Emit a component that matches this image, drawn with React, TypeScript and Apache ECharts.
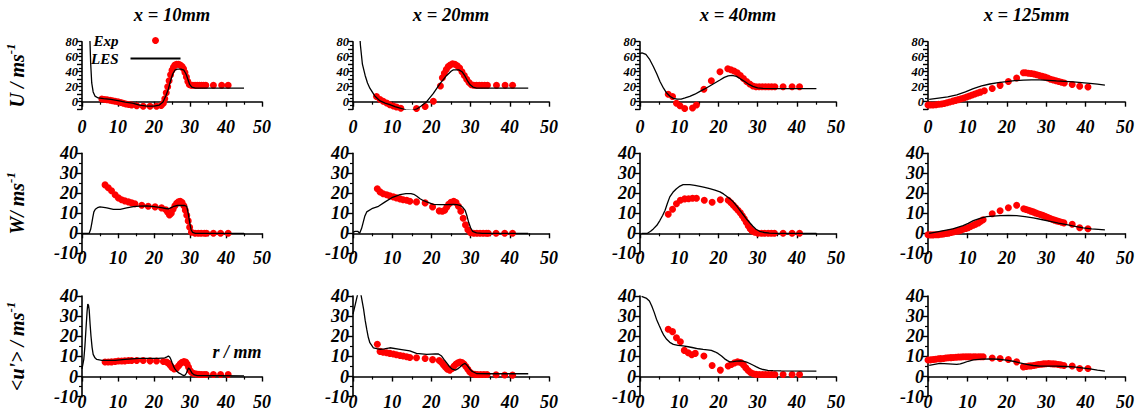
import React, { useEffect, useRef } from 'react';
import * as echarts from 'echarts';

// ---------- tick / category texts ----------
const stationTitles = ['x = 10mm', 'x = 20mm', 'x = 40mm', 'x = 125mm'];
const yNames = ['U / ms', 'W/ ms', "<u'> / ms"];
const yMaxes = [80, 40, 40];
const xTicks = [0, 10, 20, 30, 40, 50];

// ---------- row 1 : U ----------
const expU10 = [[5.5,3.5],[6.3,3],[7,2.6],[7.8,2],[8.5,1.2],[9.2,0.6],[10,0],[10.8,-1],[11.5,-2],[12.2,-3],[13,-3.8],[13.8,-4.5],[15.2,-5.3],[17,-6],[18.9,-6],[20.7,-6],[22,-5],[22.6,-2],[23,4],[23.4,12],[23.8,20],[24.2,28],[24.6,36],[25,42],[25.4,46],[25.8,49],[26.3,50],[26.8,50],[27.3,49],[27.8,47],[28.2,44],[28.6,39],[29,33],[29.4,27],[29.8,23],[30.3,22],[30.8,22],[31.4,22],[32,22],[32.6,22],[33.2,22],[33.8,22],[34.4,22],[36.5,22],[38.8,22],[40.6,22]];
const lesU10 = [[2.15,90],[2.4,52],[2.7,25],[3.1,13],[3.6,7.5],[4.5,5],[6,4],[8,3],[10,1.5],[12,-0.5],[14,-2],[16,-4.5],[18,-6],[20,-6],[21.5,-4.5],[22.5,-0.5],[23.3,8],[24,17],[24.6,28],[25.2,37],[25.8,42],[26.5,43.5],[27.5,43.5],[28.3,42],[28.9,37],[29.4,30],[29.9,23],[30.5,19.5],[31.5,18.2],[35,18],[45,18]];
const expU20 = [[6,7],[6.9,3],[7.7,0.5],[8.6,-1.8],[9.4,-4],[10.3,-5.8],[11.1,-7],[12.2,-8.8],[16.2,-9],[18.4,-6.5],[20.5,0.5],[22.3,21],[22.8,32],[23.3,38],[23.8,43],[24.3,47],[24.8,49],[25.4,50.5],[26,50],[26.6,48],[27.2,45],[27.8,40],[28.4,35],[29,30],[29.6,25.5],[30.2,22.5],[30.8,22],[31.5,22],[32.2,22],[32.9,22],[33.6,22],[34.3,22],[36.6,22],[38.8,22],[40.7,22]];
const lesU20 = [[1.7,90],[1.9,75],[2.4,50],[3.1,35],[3.7,25],[4.3,18],[5.5,8],[6.9,1],[8.2,-2],[9.4,-4],[10.7,-6.5],[12,-8.5],[13.5,-11],[15,-11.5],[16.2,-10],[17.3,-6],[18.8,0],[20.5,11],[22.2,24],[23.9,35],[25.1,41],[25.6,42.5],[27,42.5],[27.8,40],[28.6,34],[29.3,27],[29.9,22.5],[30.6,19.5],[31.5,18.2],[34,18],[44.7,18]];
const expU40 = [[7.2,10],[8.3,7],[9.3,-2],[10.2,-5.5],[11.4,-9],[13.4,-8.5],[14.4,-4.5],[16.3,16.5],[18.2,28],[20.4,40],[22.4,44],[23.2,42.5],[24,41],[24.8,38.5],[25.6,35],[26.4,31],[27.2,27],[28,23.5],[28.8,21],[29.6,20],[30.4,20],[31.2,20],[32,20],[32.8,20],[33.6,20],[34.4,20],[36.5,20],[38.8,20],[40.7,20]];
const lesU40 = [[0,64],[0.5,65],[1.5,63],[2.5,56],[3.4,47],[4.3,37],[5.1,27],[6,18],[6.8,11.5],[7.7,7],[8.5,4.5],[9.5,3.5],[10.5,3.5],[11.5,5],[12.7,7],[14,10],[15.3,13.8],[16.5,17],[17.8,21],[19.1,25],[20.4,29],[21.5,32.5],[22.5,34.5],[23.5,35],[24.6,33.8],[25.6,30.5],[26.7,27],[27.8,23],[28.8,20.4],[30,18.5],[31.4,17.8],[35,17.5],[45,17.3]];
const expU125 = [[0,-4.5],[0.6,-4.5],[1.3,-4.3],[2,-4],[2.7,-3.5],[3.4,-3],[4.1,-2.3],[4.8,-1.5],[5.5,-0.5],[6.3,0.8],[7,1.8],[7.7,2.8],[8.4,4],[9.1,5],[9.8,6.3],[10.5,7.6],[11.2,9],[11.9,10.3],[12.6,11.6],[13.3,12.8],[14.3,14.5],[16.3,17.5],[18.3,21.8],[20.4,27],[22.5,31.6],[24.2,38.5],[24.8,38.5],[25.5,38],[26.2,37.5],[26.9,37],[27.6,36],[28.3,35],[29,34],[29.7,33],[30.4,31.5],[31.1,30],[31.8,29],[32.5,28],[33.2,27],[33.9,26],[34.6,25],[36.6,23],[38.5,20.5],[40.6,19.5]];
const lesU125 = [[0.3,3.1],[2.7,4.9],[5,6.5],[7.3,9],[9.5,13],[11.5,17.5],[13.6,21],[15.7,23.6],[17.8,25.5],[19.9,26.7],[22,28],[24.2,28.7],[26.3,29],[28.4,29],[30.5,28.5],[32.6,27.8],[34.7,27.2],[36.9,26.5],[39,25.5],[41.1,24.4],[43,23.3],[44.9,22.2]];

// ---------- row 2 : W ----------
const expW10 = [[6.4,24.2],[7.3,22.8],[8.2,21.3],[9.2,19.3],[10.1,17.7],[11,16.8],[11.9,16.2],[12.9,15.7],[13.8,15.2],[14.7,14.8],[16.6,14],[18.4,13.5],[20.3,13.2],[22.1,12.7],[23.3,11.8],[23.8,10.5],[24.3,9.2],[24.8,10],[25.3,12],[25.8,13.8],[26.3,15],[26.8,15.7],[27.3,16],[27.8,15.4],[28.3,13.8],[28.7,11.5],[29.1,9],[29.5,6.2],[29.9,3],[30.4,0.5],[31.4,0],[32.3,0],[33.1,0],[34,0],[34.6,0],[36.5,0],[38.5,0],[40.6,0]];
const lesW10 = [[0,0],[2,0],[2.4,2],[2.7,4.8],[3,8],[3.3,10.7],[3.7,12],[4.3,12.8],[5,13.2],[6,13],[6.9,12.7],[8.7,12],[10.6,12],[12.4,12.7],[14.3,13.3],[16,13.6],[18,13.7],[20,13.3],[22,12.8],[23.3,12.4],[24,12.2],[24.8,12.8],[25.5,13.5],[26.5,13.9],[27.5,14],[28.5,13.9],[29.1,13.5],[29.5,10],[29.9,5.5],[30.3,1.8],[30.7,0.5],[31.5,0],[45,0]];
const expW20 = [[6.2,22.3],[6.9,20.7],[7.7,19.8],[8.6,19.3],[9.4,18.7],[10.3,18.2],[11.1,17.7],[12,17.2],[12.8,16.8],[13.7,16.5],[14.5,16],[16.2,15.7],[18.4,15.2],[20.3,13.2],[22,11.2],[22.8,11],[23.4,11.5],[23.9,13],[24.4,14.5],[25,15.5],[25.7,16],[26.3,15.4],[26.9,13.5],[27.5,11],[28.1,7.5],[28.7,4.2],[29.3,1.8],[30,0.3],[30.8,0],[31.6,0],[32.4,0],[33.2,0],[34,0],[34.5,0],[36.5,0],[38.7,0],[40.7,0]];
const lesW20 = [[0,0.5],[0.5,1],[1.2,1],[1.7,0],[2.2,2.5],[2.6,5.5],[3,8.5],[3.5,10.7],[4.8,12.3],[6.5,13.5],[8.2,15.7],[9.9,17.8],[12,19.3],[13.5,19.8],[14.8,19.8],[15.5,19.5],[16.3,18.5],[17.1,17.3],[18,16.3],[18.8,15.7],[20.5,14.5],[22.2,14.3],[23.9,14.3],[25.6,14.5],[26.5,14.3],[27.3,14],[28,13],[28.6,11.5],[29.1,8.5],[29.5,5.5],[30,2.8],[30.5,1],[31.5,0.2],[33,0],[44.7,0]];
const expW40 = [[7.2,9.5],[8.3,12],[9.3,14.8],[10.3,16.5],[11.4,17.2],[12.4,17.3],[13.4,17.5],[14.4,17.5],[16.4,16.5],[18.4,15.5],[20.5,16.8],[22.5,16.5],[23.2,15.3],[23.8,14],[24.4,12.8],[25,11.5],[25.6,10.2],[26.1,8.8],[26.6,7.3],[27.1,5.5],[27.6,3.8],[28.1,2.3],[28.6,1.2],[29.3,0.5],[30.1,0],[31,0],[31.8,0],[32.7,0],[33.5,0],[34.3,0],[36.5,0],[38.8,0],[40.7,0]];
const lesW40 = [[0.4,0],[1.9,0],[2.7,1],[3.4,2.2],[4.3,4],[5.1,6.5],[5.8,9],[6.4,11.5],[7,15],[7.6,18.2],[8.4,20.5],[9.3,22.3],[10.2,23.6],[11,24.3],[12.7,24.3],[14,24],[15.3,23.5],[16.5,23],[17.8,22.3],[19.1,21.6],[20.4,20.7],[21.3,19.7],[22.1,18.5],[23,17.2],[23.8,15.7],[24.7,13.6],[25.5,11.5],[26.3,9.4],[27.1,7.3],[28,5.3],[28.8,3.5],[29.6,2],[30.5,1],[31.7,0.4],[33,0.1],[35,0],[45,0]];
const expW125 = [[0,-0.7],[0.65,-0.8],[1.3,-0.8],[2,-0.7],[2.6,-0.7],[3.3,-0.5],[3.9,-0.3],[4.5,-0.1],[5.2,0.1],[5.8,0.4],[6.4,0.7],[7.1,1],[7.7,1.2],[8.3,1.6],[8.9,2],[9.6,2.4],[10.2,2.8],[10.8,3.4],[11.5,4],[12.1,4.6],[12.8,5.2],[13.4,6],[14,6.8],[16.3,9.8],[18.3,11.3],[20.4,12.8],[22.5,14],[24.3,12.3],[24.9,11.9],[25.5,11.5],[26.1,11.1],[26.7,10.7],[27.3,10.2],[27.9,9.8],[28.5,9.4],[29.1,9],[29.7,8.5],[30.3,8],[30.9,7.5],[31.5,7],[32.1,6.6],[32.7,6.2],[33.3,5.9],[33.9,5.5],[34.5,5.2],[36.6,4.5],[38.5,2.8],[40.6,2.3]];
const lesW125 = [[0.3,0],[3,1],[6.3,2.2],[8.9,3.8],[10.2,5],[11.5,6.3],[13.2,7.5],[14.9,8.3],[16.6,8.6],[18.3,8.8],[20.4,8.9],[22.5,8.8],[24.6,8.3],[26.7,7.7],[28.8,6.9],[31,6],[33.1,5.1],[35.2,4.3],[37.3,3.5],[39.4,2.7],[41.5,2.2],[44.9,1.7]];

// ---------- row 3 : <u'> ----------
const expUp10 = [[6.4,7.2],[7.3,7.2],[8.2,7.3],[9.2,7.5],[10.1,7.7],[11,7.7],[11.9,7.8],[12.9,8],[13.8,8],[15.2,8],[17,8],[18.9,7.8],[20.7,7.7],[22.6,7.5],[23.5,7.2],[24,6.6],[24.5,5.6],[25,4.5],[25.6,3.8],[26.2,4],[26.8,5.2],[27.3,6.4],[27.8,7.1],[28.3,7.4],[28.8,7.2],[29.2,6.2],[29.6,4.6],[30,3],[30.5,2],[31.1,1.5],[31.8,1.3],[32.5,1.1],[33.2,1],[33.9,1],[34.5,1],[36.5,1],[38.5,1],[40.6,1]];
const lesUp10 = [[0,3.8],[0.5,8.5],[0.8,15],[1.1,23.5],[1.4,32],[1.6,36],[1.8,35.5],[2,33],[2.25,26],[2.5,20],[2.8,14.5],[3.1,11],[3.6,9.3],[4.1,8.5],[5.5,8],[7.5,8],[9.2,8],[12,8.5],[15.7,9],[18,9],[21.2,9],[23,9.3],[23.6,9.8],[24,10.2],[24.4,9.6],[24.7,8.5],[25,7],[25.4,5.2],[25.8,3.8],[26.3,2.7],[27,1.7],[27.7,1],[28.3,0.5],[28.7,0.8],[29,1.8],[29.3,3],[29.6,4.2],[29.9,3.8],[30.2,2.8],[30.6,1.6],[31.2,0.8],[32,0.5],[38,0.4],[45,0.3]];
const expUp20 = [[6.2,16],[6.9,12.5],[7.7,12.1],[8.6,11.8],[9.4,11.5],[10.3,11.2],[11.1,10.8],[12,10.5],[12.8,10.2],[13.7,9.8],[14.5,9.5],[16.2,9.3],[18.4,9],[20.3,8.4],[22,8],[22.6,7],[23.1,5.8],[23.6,4.6],[24.1,3.6],[24.7,3.2],[25.3,4],[25.8,5.2],[26.3,6.2],[26.8,6.8],[27.3,7.2],[27.8,7],[28.3,6.2],[28.8,5],[29.3,3.6],[29.8,2.3],[30.4,1.4],[31.1,1.1],[31.8,1],[32.6,1],[33.4,1],[34.2,1],[36.5,0.9],[38.7,0.8],[40.7,0.7]];
const lesUp20 = [[0,31],[0.6,36],[1.2,41],[2,41],[2.7,33.5],[3.1,28],[3.5,23.5],[3.9,19.5],[4.3,16.8],[5.2,14.3],[6.9,13.5],[8,13.7],[9.4,14.3],[12,13.5],[14.5,12.7],[16.2,11.5],[18.8,11],[21,11.3],[21.8,11.2],[22.6,10.2],[23.2,8.5],[23.9,6.8],[24.6,5],[25.2,3.8],[26.1,3.2],[26.7,3.8],[27.3,4.8],[28,6],[28.6,6.5],[29,5.8],[29.4,4.8],[29.9,3.5],[30.3,2.7],[31,2],[31.5,1.5],[35,1.4],[44.7,1.4]];
const expUp40 = [[7.2,23.5],[8.3,22.3],[9.3,19.3],[10.3,17.3],[11.3,13],[12.3,11.8],[13.2,10.8],[14.1,11.5],[16.3,10.2],[18.4,5.5],[20.5,3.2],[22.5,5.2],[23.3,6],[24.1,6.8],[24.9,7.3],[25.7,7],[26.4,5.8],[27,4.3],[27.6,3],[28.2,2],[28.9,1.4],[29.6,1.1],[30.4,1],[31.2,1],[32,1],[32.8,1],[33.6,1],[34.4,1],[36.5,1],[38.8,1],[40.7,1]];
const lesUp40 = [[0.4,39.8],[1.7,38.8],[2.4,37.5],[3,35],[3.6,32],[4.2,28.5],[4.9,25.3],[5.5,22.7],[6.1,20.4],[6.8,18.5],[7.6,17],[8.5,16],[9.7,15.5],[11,15.2],[12.3,14.8],[13.6,14.3],[14.9,13.8],[16.1,13.5],[17.2,13.3],[18.2,13],[19.1,12.3],[19.9,11.5],[20.8,10.2],[21.6,8.8],[22.3,7.9],[22.9,7.3],[23.8,7.4],[24.6,7.7],[25.5,7.8],[26.3,7.7],[27.2,7.2],[28,6.5],[28.9,5.6],[29.7,4.8],[30.5,4.1],[31.4,3.5],[32.6,3.1],[33.9,2.9],[36,2.8],[45,2.7]];
const expUp125 = [[0,8.2],[0.65,8.3],[1.3,8.5],[1.9,8.6],[2.6,8.8],[3.2,8.9],[3.9,9],[4.5,9.2],[5.1,9.3],[5.8,9.4],[6.4,9.5],[7.1,9.6],[7.7,9.7],[8.3,9.7],[8.9,9.8],[9.6,9.8],[10.2,9.8],[10.8,9.8],[11.5,9.8],[12.1,9.8],[12.8,9.8],[13.4,9.8],[14,9.8],[16.3,9.2],[18.3,9],[20.4,8.5],[22.5,7.3],[24.2,4.8],[24.9,5],[25.5,5.2],[26.1,5.3],[26.8,5.5],[27.4,5.7],[28,6],[28.7,6.1],[29.3,6.3],[29.9,6.4],[30.6,6.5],[31.2,6.4],[31.8,6.3],[32.4,6.2],[33.1,6],[33.7,5.8],[34.5,5.5],[36.6,5.2],[38.5,4],[40.6,4]];
const lesUp125 = [[0.3,5.5],[3,6.5],[5.2,6.3],[7.3,6],[8.2,6.3],[9,6.8],[10.2,7.6],[11.5,8.3],[13.6,8.7],[15.7,8.8],[17.8,8.6],[19.9,8.2],[21.6,7.6],[23.3,6.8],[25,6],[26.7,5.5],[28.4,5.2],[30.5,5.2],[32.6,5.2],[34.8,5],[36.9,4.8],[39,4.3],[41.1,3.8],[43,3.2],[44.9,2.7]];

const expRows = [
  [expU10, expU20, expU40, expU125],
  [expW10, expW20, expW40, expW125],
  [expUp10, expUp20, expUp40, expUp125],
];
const lesRows = [
  [lesU10, lesU20, lesU40, lesU125],
  [lesW10, lesW20, lesW40, lesW125],
  [lesUp10, lesUp20, lesUp40, lesUp125],
];

// ---------- layout (pixels) ----------
const colLeft = [82, 353, 640, 928];
const colWidth = [180, 196, 196, 197];
const rowTop = [41.7, 153.3, 296];
const rowHeight = [67.5, 100, 100.7];
const xLabelMargin = [11, -1.5, -1];
const yLabelSize = [12.5, 18, 18];

const FONT = '"Liberation Serif", "Times New Roman", serif';
const textBase = {
  fontFamily: FONT,
  fontWeight: 'bold' as const,
  fontStyle: 'italic' as const,
  color: '#000',
};

function buildOption() {
  const grid: any[] = [];
  const xAxis: any[] = [];
  const yAxis: any[] = [];
  const series: any[] = [];
  const graphic: any[] = [];

  for (let r = 0; r < 3; r++) {
    for (let c = 0; c < 4; c++) {
      const idx = r * 4 + c;
      grid.push({ left: colLeft[c], top: rowTop[r], width: colWidth[c], height: rowHeight[r] });
      // axis line at zero with ticks
      xAxis.push({
        gridIndex: idx, type: 'value', min: 0, max: 50, interval: 10,
        axisLine: { show: true, onZero: true, lineStyle: { color: '#000', width: 1.6 } },
        axisTick: { show: true, length: 5, lineStyle: { color: '#000', width: 1.4 } },
        minorTick: { show: true, splitNumber: 2, length: 3, lineStyle: { color: '#000', width: 1.2 } },
        axisLabel: { show: false },
        splitLine: { show: false },
      });
      // label-only axis at the bottom
      xAxis.push({
        gridIndex: idx, type: 'value', min: 0, max: 50, interval: 10, position: 'bottom',
        axisLine: { show: false, onZero: false },
        axisTick: { show: false },
        axisLabel: { ...textBase, fontSize: 18, lineHeight: 13, margin: xLabelMargin[r],
          formatter: (v: number) => (xTicks.indexOf(v) >= 0 ? String(v) : '') },
        splitLine: { show: false },
      });
      const y: any = {
        gridIndex: idx, type: 'value', min: -10, max: yMaxes[r], interval: 10,
        axisLine: { show: true, onZero: false, lineStyle: { color: '#000', width: 1.6 } },
        axisTick: { show: true, length: 5, lineStyle: { color: '#000', width: 1.4 } },
        minorTick: { show: true, splitNumber: 2, length: 3, lineStyle: { color: '#000', width: 1.2 } },
        axisLabel: {
          ...textBase, fontSize: yLabelSize[r], lineHeight: 13, margin: 4,
          formatter: (v: number) => (r === 0 ? (v >= 0 && v % 20 === 0 ? String(v) : '') : String(v)),
        },
        splitLine: { show: false },
      };
      if (c === 0) {
        y.name = `{a|${yNames[r]}}{b|-1}`;
        y.nameLocation = 'middle';
        y.nameRotate = 90;
        y.nameGap = 52;
        y.nameTextStyle = {
          rich: {
            a: { ...textBase, fontSize: 20, lineHeight: 26 },
            b: { ...textBase, fontSize: 13, lineHeight: 26, verticalAlign: 'top' },
          },
        };
      }
      yAxis.push(y);
      series.push({
        type: 'scatter', name: 'Exp', xAxisIndex: idx * 2, yAxisIndex: idx,
        data: expRows[r][c], symbol: 'circle', symbolSize: 7,
        itemStyle: { color: '#ff0000', opacity: 1 }, z: 2,
      });
      series.push({
        type: 'line', name: 'LES', xAxisIndex: idx * 2, yAxisIndex: idx,
        data: lesRows[r][c], symbol: 'none', showSymbol: false, clip: true,
        lineStyle: { color: '#000', width: 1.3 }, itemStyle: { color: '#000' }, z: 3,
      });
    }
  }

  for (let c = 0; c < 4; c++) {
    graphic.push({
      type: 'text', x: colLeft[c] + colWidth[c] / 2, y: 15,
      style: { text: stationTitles[c], ...textBase, fill: '#000', fontSize: 18.5, align: 'center', verticalAlign: 'middle' },
    });
  }
  graphic.push({
    type: 'text', x: 237, y: 352,
    style: { text: 'r / mm', ...textBase, fill: '#000', fontSize: 18, align: 'center', verticalAlign: 'middle' },
  });

  return {
    animation: false,
    backgroundColor: '#fff',
    grid, xAxis, yAxis, series, graphic,
    legend: {
      data: [
        { name: 'Exp' },
        { name: 'LES', itemStyle: { opacity: 0 } },
      ],
      orient: 'vertical',
      align: 'right',
      left: 86, top: 28,
      itemWidth: 50, itemHeight: 7, itemGap: 3,
      textStyle: { ...textBase, fontSize: 15, lineHeight: 14, padding: [0, 7, 0, 0] },
      selectedMode: false,
    },
  };
}

export default function App() {
  const ref = useRef<HTMLDivElement>(null);
  useEffect(() => {
    if (!ref.current) return;
    const chart = echarts.init(ref.current, undefined, { renderer: 'svg' });
    chart.setOption(buildOption() as any);
    return () => chart.dispose();
  }, []);
  return (
    <div
      ref={ref}
      style={{ position: 'absolute', left: 0, top: 0, width: 1138, height: 412, background: '#fff' }}
    />
  );
}
